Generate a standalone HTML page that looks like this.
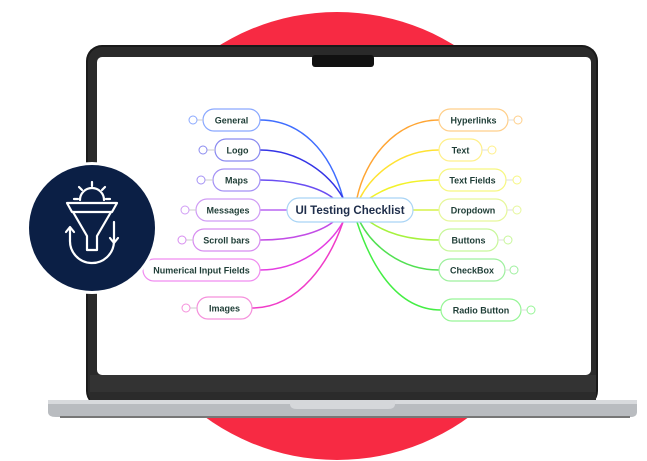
<!DOCTYPE html>
<html><head><meta charset="utf-8"><style>
html,body{margin:0;padding:0;background:#fff;}
svg{display:block}
text{font-family:"Liberation Sans","DejaVu Sans",sans-serif;font-weight:bold;fill:#1e3d36;}
</style></head><body>
<svg width="647" height="461" viewBox="0 0 647 461" xmlns="http://www.w3.org/2000/svg">
<circle cx="337" cy="236" r="224" fill="#f72a43"/>
<!-- laptop -->
<rect x="86" y="45" width="512" height="362" rx="16" fill="#1a1a1a"/>
<rect x="88" y="47" width="508" height="358" rx="14" fill="#2a2a2a"/>
<rect x="97" y="57" width="494" height="318" rx="5" fill="#fff"/>
<rect x="312" y="55" width="62" height="12" rx="3" fill="#111"/>
<rect x="90" y="375" width="506" height="25" fill="#333"/>
<rect x="90" y="392" width="506" height="9" fill="#2b2b2b"/>
<path d="M48 400 H637 V412 Q637 417 630 417 H56 Q48 417 48 412 Z" fill="#b9bcc0"/>
<rect x="48" y="400" width="589" height="4" fill="#d8dadd"/>
<path d="M290 400 H395 V404 Q395 409 388 409 H297 Q290 409 290 404 Z" fill="#d5d7da"/>
<rect x="60" y="416" width="570" height="2" fill="#777"/>
<!-- connectors -->
<g fill="none" stroke-width="1.5">
<path d="M260 120 C300 120 330 150 343 198" stroke="#3f6dff"/>
<path d="M260 150 C300 150 330 175 343 198" stroke="#3434e6"/>
<path d="M260 180 C295 180 320 188 333 198" stroke="#6a4ef2"/>
<path d="M260 210 H287" stroke="#b966f2"/>
<path d="M260 240 C295 240 320 232 333 222" stroke="#c24de6"/>
<path d="M260 270 C300 270 330 245 343 222" stroke="#e43ee2"/>
<path d="M252 308 C300 308 330 260 343 222" stroke="#f03cc8"/>
<path d="M439 120 C395 120 365 160 357 198" stroke="#ffa533"/>
<path d="M439 150 C400 150 372 175 360 198" stroke="#ffe233"/>
<path d="M439 180 C405 180 385 188 370 198" stroke="#f2f22a"/>
<path d="M413 210 H439" stroke="#d6f24a"/>
<path d="M439 240 C405 240 385 232 370 222" stroke="#a6f23e"/>
<path d="M439 270 C400 270 372 245 360 222" stroke="#52e052"/>
<path d="M441 310 C395 310 370 262 357 222" stroke="#44ee44"/>
</g>
<!-- nodes -->
<g stroke-width="1.2" fill="#fff">
<rect x="203" y="109" width="57" height="22" rx="11" stroke="#8aa8ff"/>
<rect x="215" y="139" width="45" height="22" rx="11" stroke="#8a8af0"/>
<rect x="213" y="169" width="47" height="22" rx="11" stroke="#a491f5"/>
<rect x="196" y="199" width="64" height="22" rx="11" stroke="#d09cf5"/>
<rect x="193" y="229" width="67" height="22" rx="11" stroke="#d78cf0"/>
<rect x="143" y="259" width="117" height="22" rx="11" stroke="#f08cf0"/>
<rect x="197" y="297" width="55" height="22" rx="11" stroke="#f590dc"/>
<rect x="287" y="198" width="126" height="24" rx="12" stroke="#a9d4f5"/>
<rect x="439" y="109" width="69" height="22" rx="11" stroke="#ffcf8a"/>
<rect x="439" y="139" width="43" height="22" rx="11" stroke="#fff08a"/>
<rect x="439" y="169" width="67" height="22" rx="11" stroke="#f7f780"/>
<rect x="439" y="199" width="68" height="22" rx="11" stroke="#e6f79a"/>
<rect x="439" y="229" width="59" height="22" rx="11" stroke="#c8f79a"/>
<rect x="439" y="259" width="66" height="22" rx="11" stroke="#9ef09e"/>
<rect x="441" y="299" width="80" height="22" rx="11" stroke="#96f596"/>
</g>
<!-- badges -->
<g fill="#fff" stroke-width="1">
<path d="M197 120H203M207 150H215M205 180H213M189 210H196M186 240H193M190 308H197" stroke="#ccc"/>
<circle cx="193" cy="120" r="4" stroke="#8aa8ff"/>
<circle cx="203" cy="150" r="4" stroke="#8a8af0"/>
<circle cx="201" cy="180" r="4" stroke="#a491f5"/>
<circle cx="185" cy="210" r="4" stroke="#d09cf5"/>
<circle cx="182" cy="240" r="4" stroke="#d78cf0"/>
<circle cx="186" cy="308" r="4" stroke="#f590dc"/>
<path d="M508 120H514M482 150H488M506 180H513M507 210H513M498 240H504M505 270H510M521 310H527" stroke="#ddd"/>
<circle cx="518" cy="120" r="4" stroke="#ffcf8a"/>
<circle cx="492" cy="150" r="4" stroke="#fff08a"/>
<circle cx="517" cy="180" r="4" stroke="#f7f780"/>
<circle cx="517" cy="210" r="4" stroke="#e6f79a"/>
<circle cx="508" cy="240" r="4" stroke="#c8f79a"/>
<circle cx="514" cy="270" r="4" stroke="#9ef09e"/>
<circle cx="531" cy="310" r="4" stroke="#96f596"/>
</g>
<g font-size="9" text-anchor="middle">
<text x="231.5" y="123.5">General</text>
<text x="237.5" y="153.5">Logo</text>
<text x="236.5" y="183.5">Maps</text>
<text x="228" y="213.5">Messages</text>
<text x="226.5" y="243.5">Scroll bars</text>
<text x="201.5" y="273.5">Numerical Input Fields</text>
<text x="224.5" y="311.5">Images</text>
<text x="350" y="214" font-size="11.5" style="fill:#1e2d4a">UI Testing Checklist</text>
<text x="473.5" y="123.5">Hyperlinks</text>
<text x="460.5" y="153.5">Text</text>
<text x="472.5" y="183.5">Text Fields</text>
<text x="473" y="213.5">Dropdown</text>
<text x="468.5" y="243.5">Buttons</text>
<text x="472" y="273.5">CheckBox</text>
<text x="481" y="313.5">Radio Button</text>
</g>
<!-- dark badge -->
<circle cx="92" cy="228" r="66" fill="#fff"/>
<circle cx="92" cy="228" r="63" fill="#0b1f45"/>
<g fill="none" stroke="#fff" stroke-width="2.2" stroke-linecap="round" stroke-linejoin="round">
<path d="M80 200 a12 12 0 0 1 24 0"/>
<path d="M92 186 v-4 M82 190 l-3 -3 M102 190 l3 -3 M78 199 h-4 M106 199 h4"/>
<path d="M67 203 H117 L112 212 H72 Z"/>
<path d="M73 212 L87 236 V250 H97 V236 L111 212"/>
<path d="M70 240 a22 22 0 0 0 44 2"/>
<path d="M70 240 V228 M66 232 L70 227 L74 232"/>
<path d="M114 242 V222 M110 238 L114 243 L118 238"/>
</g>
</svg>
</body></html>
